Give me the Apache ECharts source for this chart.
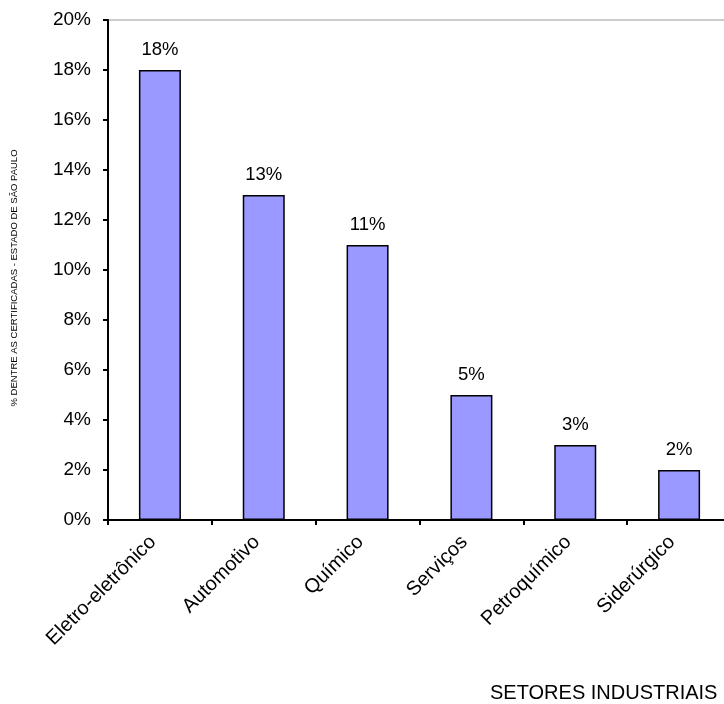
<!DOCTYPE html>
<html>
<head>
<meta charset="utf-8">
<script src="https://cdn.jsdelivr.net/npm/echarts@6/dist/echarts.min.js"></script>
<style>
  html, body { margin: 0; padding: 0; background: #fff; }
  #chart { width: 724px; height: 704px; }
</style>
</head>
<body>
<div id="chart"></div>
<script>
// setores e percentuais
const setores = ['Eletro-eletrônico', 'Automotivo', 'Químico', 'Serviços', 'Petroquímico', 'Siderúrgico']
const percentuais = [18, 13, 11, 5, 3, 2]

const dom = echarts.init(document.getElementById('chart'))
const fonte = 'Liberation Sans, Arial, sans-serif'

const option = {
  animation: false,
  textStyle: { fontFamily: fonte },
  grid: {
    left: 108,
    top: 20,
    width: 623,
    height: 500,
    outerBoundsMode: 'none',
    show: true,
    borderColor: '#999',
    borderWidth: 1
  },
  graphic: [
    {
      type: 'text',
      left: 490,
      top: 683,
      style: { text: 'SETORES INDUSTRIAIS', font: '20px ' + fonte, fill: '#000' }
    },
    {
      // titulo do eixo y
      type: 'text',
      x: 14,
      y: 278,
      rotation: Math.PI / 2,
      style: {
        text: '% DENTRE AS CERTIFICADAS - ESTADO DE SÃO PAULO',
        font: '9.5px ' + fonte,
        fill: '#000',
        align: 'center',
        verticalAlign: 'middle'
      }
    }
  ],
  xAxis: {
    type: 'category',
    data: setores,
    axisLine: { lineStyle: { color: '#000', width: 2 } },
    axisTick: { show: true, length: 5, lineStyle: { color: '#000', width: 2 } },
    axisLabel: {
      rotate: 45,
      color: '#000',
      fontSize: 20,
      margin: 12,
      padding: [0, 10, 0, 0],
      interval: 0
    }
  },
  yAxis: {
    type: 'value',
    min: 0,
    max: 20,
    interval: 2,
    axisLine: { show: true, lineStyle: { color: '#000', width: 2 } },
    axisTick: { show: true, length: 5, lineStyle: { color: '#000', width: 2 } },
    splitLine: { show: false },
    axisLabel: {
      color: '#000',
      fontSize: 19,
      margin: 17,
      formatter: '{value}%'
    }
  },
  series: [
    {
      type: 'bar',
      data: percentuais,
      barWidth: 42,
      itemStyle: { color: '#9999ff', borderColor: '#000', borderWidth: 1.5 },
      label: {
        show: true,
        position: 'top',
        distance: 11,
        color: '#000',
        fontSize: 18.5,
        formatter: '{c}%'
      }
    }
  ]
}

dom.setOption(option)
</script>
</body>
</html>
